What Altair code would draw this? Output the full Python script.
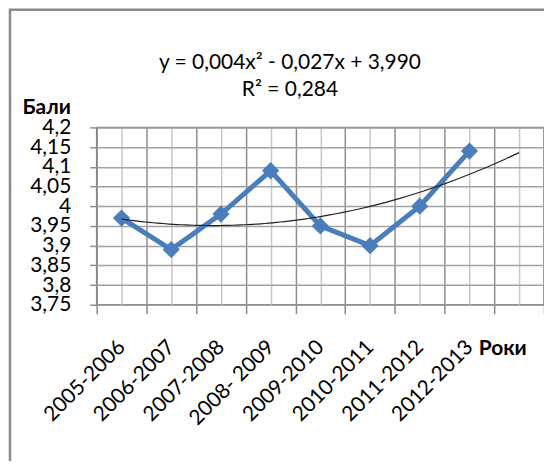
import altair as alt
import pandas as pd

years = ["2005-2006", "2006-2007", "2007-2008", "2008- 2009",
         "2009-2010", "2010-2011", "2011-2012", "2012-2013"]
scores = [3.97, 3.89, 3.98, 4.09, 3.95, 3.90, 4.00, 4.14]
y_ticks = [3.75, 3.8, 3.85, 3.9, 3.95, 4.0, 4.05, 4.1, 4.15, 4.2]
x_ticks = [0.5, 1, 1.5, 2, 2.5, 3, 3.5, 4, 4.5, 5, 5.5, 6, 6.5, 7, 7.5, 8, 8.5, 9, 9.5]
equation = ["y = 0,004x² - 0,027x + 3,990", "R² = 0,284"]

FONT = "Lato"
BLUE = "#4a7ebb"

df = pd.DataFrame({"idx": list(range(1, len(years) + 1)), "year": years, "score": scores})

names_js = "[" + ",".join("'" + y + "'" for y in years) + "]"
x_label_expr = (f"(datum.value % 1 === 0 && datum.value <= {len(years)}) ? "
                f"{names_js}[datum.value - 1] : ''")

x_enc = alt.X(
    "idx:Q",
    scale=alt.Scale(domain=[0.5, 9.5], nice=False, zero=False),
    axis=alt.Axis(
        values=x_ticks,
        labelExpr=x_label_expr,
        labelAngle=-45,
        labelAlign="right",
        labelBaseline="middle",
        labelFont=FONT,
        labelFontSize=21,
        labelColor="black",
        labelPadding=30,
        labelOverlap=False,
        labelBound=False,
        tickSize=9,
        tickColor="#8a8a8a",
        tickWidth=1.5,
        tickOpacity={"condition": {"test": "datum.value % 1 === 0", "value": 0}, "value": 1},
        grid=True,
        gridColor={"condition": {"test": "datum.value % 1 === 0", "value": "#c8c8c8"}, "value": "#8e8e8e"},
        gridWidth=1.5,
        domain=False,
        title="Роки",
        titleFont=FONT,
        titleFontSize=21,
        titleFontWeight="bold",
        titleColor="black",
        titleAngle=0,
        titleAlign="left",
        titleBaseline="alphabetic",
        titleX=383,
        titleY=50,
    ),
)

y_enc = alt.Y(
    "score:Q",
    scale=alt.Scale(domain=[3.75, 4.2], nice=False, zero=False),
    axis=alt.Axis(
        values=y_ticks,
        labelExpr="replace(format(datum.value, '.2~f'), '.', ',')",
        labelFont=FONT,
        labelFontSize=21,
        labelColor="black",
        labelPadding=19,
        labelOverlap=False,
        labelBound=False,
        tickSize=7,
        tickColor="#909090",
        tickWidth=1.5,
        grid=True,
        gridColor="#a2a2a2",
        gridWidth=1.5,
        domain=False,
        title="Бали",
        titleFont=FONT,
        titleFontSize=21,
        titleFontWeight="bold",
        titleColor="black",
        titleAngle=0,
        titleAlign="left",
        titleBaseline="alphabetic",
        titleX=-75,
        titleY=-14,
    ),
)

base = alt.Chart(df).encode(x=x_enc, y=y_enc)

frame = alt.Chart(pd.DataFrame({"k": [0]})).mark_rect(
    fill=None, stroke="#8a8a8a", strokeWidth=2.5
).encode(
    x=alt.value(-87), x2=alt.value(470), y=alt.value(-118), y2=alt.value(336)
)

line = base.mark_line(color=BLUE, strokeWidth=5)
points = base.mark_point(shape="diamond", filled=True, size=300, color=BLUE, opacity=1)
trend = base.transform_regression(
    "idx", "score", method="poly", order=2, extent=[1, 9]
).mark_line(color="#222222", strokeWidth=1.2)

eq_df = pd.DataFrame({"text": equation, "line": [0, 1]})
eq_layers = []
for i, yy in enumerate([-59, -32]):
    eq_layers.append(
        alt.Chart(eq_df).transform_filter(f"datum.line == {i}").mark_text(
            font=FONT, fontSize=21, color="black", align="center", baseline="alphabetic"
        ).encode(text="text:N", x=alt.value(194), y=alt.value(yy))
    )

chart = alt.layer(frame, line, points, trend, *eq_layers).properties(
    width=449,
    height=178,
    autosize=alt.AutoSizeParams(type="none"),
    padding={"left": 89, "top": 119, "right": 0, "bottom": 156},
).configure_view(stroke="#7f7f7f", strokeWidth=1.5)

chart.save("out.html", embed_options={"renderer": "svg", "actions": False})
